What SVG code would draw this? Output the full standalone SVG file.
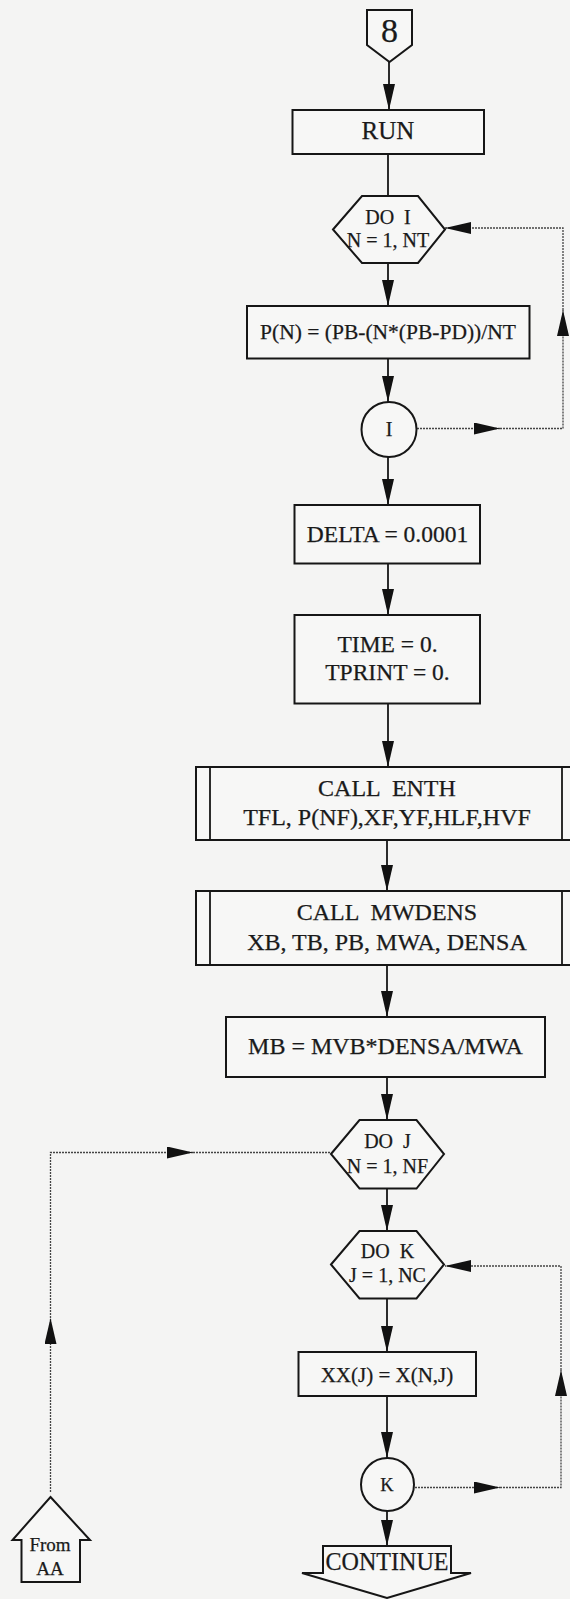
<svg xmlns="http://www.w3.org/2000/svg" width="570" height="1599" viewBox="0 0 570 1599">
<style>
.bg{fill:#f4f4f3}
.sh{fill:#f7f7f6;stroke:#161616;stroke-width:2}
.t{font-family:"Liberation Serif","Times New Roman",serif;fill:#1a1a1a;stroke:#1a1a1a;stroke-width:0.25;text-anchor:middle;white-space:pre}
.c{fill:none;stroke:#161616;stroke-width:1.8}
.d{fill:none;stroke:#444;stroke-width:1.3;stroke-dasharray:2 1}
</style>
<defs>
<marker id="ah" markerUnits="userSpaceOnUse" viewBox="0 0 26 12" markerWidth="26" markerHeight="12" refX="26" refY="6" orient="auto">
<path d="M0,0 L26,6 L0,12 z" fill="#111"/>
</marker>
</defs>
<rect class="bg" x="0" y="0" width="570" height="1599"/>

<g id="connectors">
<line class="c" x1="389" y1="62" x2="389" y2="110" marker-end="url(#ah)"/>
<line class="c" x1="388" y1="154" x2="388" y2="196"/>
<line class="c" x1="388" y1="263" x2="388" y2="306" marker-end="url(#ah)"/>
<line class="c" x1="388" y1="358" x2="388" y2="402" marker-end="url(#ah)"/>
<line class="c" x1="388" y1="457" x2="388" y2="505" marker-end="url(#ah)"/>
<line class="c" x1="388" y1="563" x2="388" y2="615" marker-end="url(#ah)"/>
<line class="c" x1="388" y1="703" x2="388" y2="767" marker-end="url(#ah)"/>
<line class="c" x1="387" y1="840" x2="387" y2="891" marker-end="url(#ah)"/>
<line class="c" x1="387" y1="965" x2="387" y2="1017" marker-end="url(#ah)"/>
<line class="c" x1="387" y1="1077" x2="387" y2="1120" marker-end="url(#ah)"/>
<line class="c" x1="387" y1="1188" x2="387" y2="1231" marker-end="url(#ah)"/>
<line class="c" x1="387" y1="1298" x2="387" y2="1352" marker-end="url(#ah)"/>
<line class="c" x1="387" y1="1396" x2="387" y2="1458" marker-end="url(#ah)"/>
<line class="c" x1="387" y1="1511" x2="387" y2="1546" marker-end="url(#ah)"/>
<!-- loop I -->
<path class="d" d="M417,428.5 H500" marker-end="url(#ah)"/>
<path class="d" d="M500,428.5 H563 V310" marker-end="url(#ah)"/>
<path class="d" d="M563,310 V228 H445" marker-end="url(#ah)"/>
<!-- loop K -->
<path class="d" d="M415,1487.5 H500" marker-end="url(#ah)"/>
<path class="d" d="M500,1487.5 H561 V1370" marker-end="url(#ah)"/>
<path class="d" d="M561,1370 V1266 H445" marker-end="url(#ah)"/>
<!-- From AA -->
<path class="d" d="M50.5,1492 V1318" marker-end="url(#ah)"/>
<path class="d" d="M50.5,1318 V1152.5 H193" marker-end="url(#ah)"/>
<path class="d" d="M193,1152.5 H331"/>
</g>

<g id="start8">
<polygon class="sh" points="367,10 412,10 412,45 389.5,62 367,45"/>
<text class="t" x="389.5" y="41.5" font-size="34">8</text>
</g>
<g id="run">
<rect class="sh" x="292.5" y="110" width="191.5" height="44"/>
<text class="t" x="388" y="138.5" font-size="25">RUN</text>
</g>
<g id="doI">
<polygon class="sh" points="333,229.5 362,196 418,196 445,229.5 418,263 362,263"/>
<text class="t" x="388" y="223.5" font-size="20">DO  I</text>
<text class="t" x="388" y="246.5" font-size="20">N = 1, NT</text>
</g>
<g id="pn">
<rect class="sh" x="247" y="306" width="282.5" height="52.5"/>
<text class="t" x="388" y="338.5" font-size="21.5">P(N) = (PB-(N*(PB-PD))/NT</text>
</g>
<g id="loopI">
<circle class="sh" cx="389" cy="429.5" r="27.5"/>
<text class="t" x="389" y="435.5" font-size="20">I</text>
</g>
<g id="delta">
<rect class="sh" x="294.5" y="505" width="185.5" height="58.5"/>
<text class="t" x="387.5" y="541.5" font-size="23.5">DELTA = 0.0001</text>
</g>
<g id="time">
<rect class="sh" x="294.5" y="615" width="185.5" height="88.5"/>
<text class="t" x="387.5" y="651.5" font-size="23.5">TIME = 0.</text>
<text class="t" x="387.5" y="680" font-size="23.5">TPRINT = 0.</text>
</g>
<g id="enth">
<rect class="sh" x="196" y="767" width="382" height="73"/>
<line class="c" x1="210" y1="767" x2="210" y2="840"/>
<line class="c" x1="562" y1="767" x2="562" y2="840"/>
<text class="t" x="387" y="796" font-size="24">CALL  ENTH</text>
<text class="t" x="387" y="825" font-size="24">TFL, P(NF),XF,YF,HLF,HVF</text>
</g>
<g id="mwdens">
<rect class="sh" x="196" y="891" width="382" height="74"/>
<line class="c" x1="210" y1="891" x2="210" y2="965"/>
<line class="c" x1="562" y1="891" x2="562" y2="965"/>
<text class="t" x="387" y="920" font-size="24">CALL  MWDENS</text>
<text class="t" x="387" y="950" font-size="24">XB, TB, PB, MWA, DENSA</text>
</g>
<g id="mb">
<rect class="sh" x="226" y="1017" width="319" height="60"/>
<text class="t" x="385.5" y="1054" font-size="24">MB = MVB*DENSA/MWA</text>
</g>
<g id="doJ">
<polygon class="sh" points="331,1154 359.5,1120 416.5,1120 444,1154 416.5,1188.5 359.5,1188.5"/>
<text class="t" x="387.5" y="1147.5" font-size="20">DO  J</text>
<text class="t" x="387.5" y="1172.5" font-size="20">N = 1, NF</text>
</g>
<g id="doK">
<polygon class="sh" points="331,1264.5 359.5,1231 416.5,1231 444,1264.5 416.5,1298.5 359.5,1298.5"/>
<text class="t" x="387.5" y="1257.5" font-size="20">DO  K</text>
<text class="t" x="387.5" y="1281.5" font-size="20">J = 1, NC</text>
</g>
<g id="xx">
<rect class="sh" x="298.5" y="1352" width="177.5" height="44"/>
<text class="t" x="387" y="1381.5" font-size="21">XX(J) = X(N,J)</text>
</g>
<g id="loopK">
<circle class="sh" cx="387.5" cy="1484.5" r="26.5"/>
<text class="t" x="387" y="1490.5" font-size="18.5">K</text>
</g>
<g id="continue">
<polygon class="sh" points="323,1546 451,1546 451,1573 471,1573 387,1598 302,1573 323,1573"/>
<text class="t" x="387" y="1570" font-size="25" textLength="123" lengthAdjust="spacingAndGlyphs">CONTINUE</text>
</g>
<g id="fromAA">
<polygon class="sh" points="50.5,1497 90,1540 80,1540 80,1582 21.5,1582 21.5,1540 12.5,1540"/>
<text class="t" x="50" y="1550.5" font-size="19">From</text>
<text class="t" x="50" y="1575" font-size="19">AA</text>
</g>
</svg>
